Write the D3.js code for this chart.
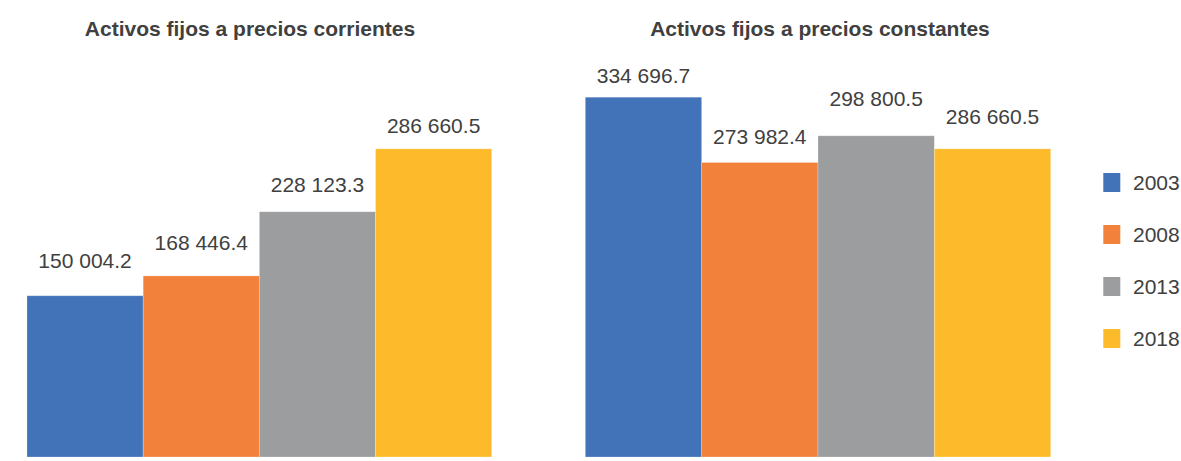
<!DOCTYPE html>
<html>
<head>
<meta charset="utf-8">
<script src="https://cdn.jsdelivr.net/npm/d3@7/dist/d3.min.js"></script>
<style>
  html, body { margin: 0; padding: 0; background: #fff; }
  svg { display: block; font-family: Arial, "Liberation Sans", Helvetica, sans-serif; }
</style>
</head>
<body>
<svg id="chart" width="1181" height="461"></svg>
<script>
// Years shown in each panel and in the legend
const years = ["2003", "2008", "2013", "2018"];

// Fixed assets, current prices
const corrientes = [150004.2, 168446.4, 228123.3, 286660.5];
// Fixed assets, constant prices
const constantes = [334696.7, 273982.4, 298800.5, 286660.5];

const panelTitles = ["Activos fijos a precios corrientes", "Activos fijos a precios constantes"];

// Series colours, one per year
const colors = ["#4273B9", "#F2823B", "#9C9D9F", "#FDBB2B"];

// Extra lift of each value label above its bar (px), per panel
const labelLift = [
  [28, 26, 20, 16],
  [14, 18, 30, 25]
];

const textColor = "#404040";
const svg = d3.select("#chart");

// Shared value scale for both panels
const y = d3.scaleLinear().domain([0, 400000]).range([457, 27]);

const fmt = v => d3.format(",.1f")(v).replace(/,/g, " ");

const panels = [
  { values: corrientes, x0: 27, x1: 491.7, titleX: 250 },
  { values: constantes, x0: 585.3, x1: 1050.7, titleX: 820 }
];

panels.forEach((p, pi) => {
  const x = d3.scaleBand().domain(years).range([p.x0, p.x1]).padding(0);
  const g = svg.append("g");

  g.append("text")
    .attr("x", p.titleX)
    .attr("y", 35.5)
    .attr("text-anchor", "middle")
    .attr("font-size", 21)
    .attr("font-weight", "bold")
    .attr("fill", textColor)
    .text(panelTitles[pi]);

  const data = years.map((yr, i) => ({ yr, v: p.values[i], i }));

  g.selectAll("rect.bar")
    .data(data)
    .join("rect")
    .attr("class", "bar")
    .attr("x", d => x(d.yr))
    .attr("y", d => y(d.v))
    .attr("width", x.bandwidth())
    .attr("height", d => y(0) - y(d.v))
    .attr("fill", d => colors[d.i])
    .attr("stroke", "#ffffff")
    .attr("stroke-opacity", 0.3)
    .attr("stroke-width", 0.8);

  g.selectAll("text.val")
    .data(data)
    .join("text")
    .attr("class", "val")
    .attr("x", d => x(d.yr) + x.bandwidth() / 2)
    .attr("y", d => y(d.v) - labelLift[pi][d.i])
    .attr("text-anchor", "middle")
    .attr("font-size", 21)
    .attr("fill", textColor)
    .text(d => fmt(d.v));
});

// Legend
const legend = svg.append("g");
const legendY = d3.scalePoint().domain(years).range([182.5, 338.5]);
years.forEach((yr, i) => {
  legend.append("rect")
    .attr("x", 1103.3)
    .attr("y", legendY(yr) - 9.5)
    .attr("width", 17)
    .attr("height", 19)
    .attr("fill", colors[i]);
  legend.append("text")
    .attr("x", 1133)
    .attr("y", legendY(yr) + 7.5)
    .attr("font-size", 21)
    .attr("fill", textColor)
    .text(yr);
});
</script>
</body>
</html>
